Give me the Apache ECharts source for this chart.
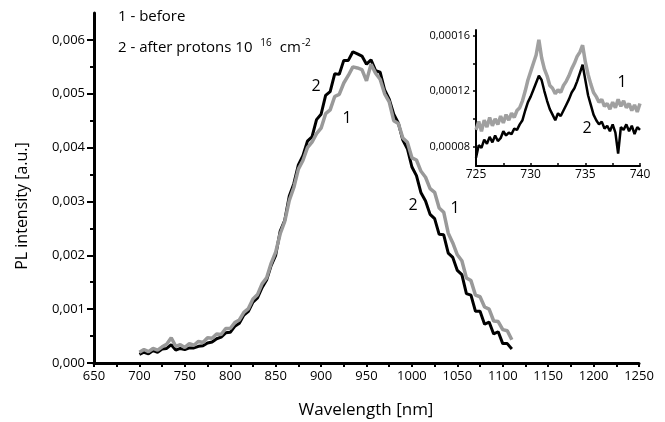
<!DOCTYPE html>
<html><head><meta charset="utf-8">
<script src="https://cdn.jsdelivr.net/npm/echarts@6/dist/echarts.min.js"></script>
<style>html,body{margin:0;padding:0;background:#fff}#c{width:665px;height:422px}</style>
</head><body><div id="c"></div>
<script>
// Main spectrum (nm)
const wavelengths = [700,705,710,715,720,725,730,735,740,745,750,755,760,765,770,775,780,785,790,795,800,805,810,815,820,825,830,835,840,845,850,855,860,865,870,875,880,885,890,895,900,905,910,915,920,925,930,935,940,945,950,955,960,965,970,975,980,985,990,995,1000,1005,1010,1015,1020,1025,1030,1035,1040,1045,1050,1055,1060,1065,1070,1075,1080,1085,1090,1095,1100,1105,1110];
const before = [0.00020,0.00025,0.00021,0.00027,0.00024,0.00030,0.00035,0.00047,0.00031,0.00034,0.00029,0.00036,0.00033,0.00040,0.00038,0.00047,0.00046,0.00054,0.00053,0.00064,0.00064,0.00075,0.00080,0.00094,0.00101,0.00119,0.00127,0.00147,0.00158,0.00185,0.00206,0.00240,0.00263,0.00302,0.00326,0.00360,0.00376,0.00400,0.00410,0.00426,0.00436,0.00463,0.00470,0.00495,0.00499,0.00520,0.00534,0.00550,0.00548,0.00545,0.00524,0.00555,0.00538,0.00527,0.00500,0.00485,0.00450,0.00445,0.00418,0.00410,0.00381,0.00377,0.00356,0.00345,0.00324,0.00317,0.00288,0.00280,0.00241,0.00223,0.00201,0.00190,0.00158,0.00153,0.00126,0.00123,0.00104,0.00100,0.00078,0.00077,0.00062,0.00060,0.00043];
const after = [0.00016,0.00020,0.00017,0.00023,0.00020,0.00026,0.00027,0.00034,0.00024,0.00027,0.00025,0.00028,0.00028,0.00031,0.00032,0.00037,0.00039,0.00045,0.00048,0.00056,0.00057,0.00068,0.00074,0.00089,0.00096,0.00113,0.00121,0.00140,0.00154,0.00181,0.00200,0.00245,0.00265,0.00310,0.00333,0.00368,0.00385,0.00412,0.00420,0.00452,0.00462,0.00497,0.00504,0.00537,0.00536,0.00562,0.00562,0.00578,0.00574,0.00570,0.00555,0.00563,0.00543,0.00540,0.00507,0.00490,0.00462,0.00446,0.00414,0.00398,0.00364,0.00348,0.00316,0.00301,0.00276,0.00268,0.00239,0.00238,0.00204,0.00196,0.00172,0.00164,0.00129,0.00126,0.00096,0.00096,0.00072,0.00076,0.00054,0.00058,0.00036,0.00036,0.00026];

// Inset (nm)
const insetWavelengths = [725,725.25,725.5,725.75,726,726.25,726.5,726.75,727,727.25,727.5,727.75,728,728.25,728.5,728.75,729,729.25,729.5,729.75,730,730.25,730.5,730.75,731,731.25,731.5,731.75,732,732.25,732.5,732.75,733,733.25,733.5,733.75,734,734.25,734.5,734.75,735,735.25,735.5,735.75,736,736.25,736.5,736.75,737,737.25,737.5,737.75,738,738.25,738.5,738.75,739,739.25,739.5,739.75,740];
const insetBefore = [0.000092,0.000098,0.000091,0.000099,0.000094,0.000101,0.000095,0.000100,0.000096,0.000102,0.000097,0.000103,0.000099,0.000104,0.000101,0.000106,0.000108,0.000113,0.000120,0.000128,0.000134,0.000140,0.000146,0.000157,0.000144,0.000136,0.000131,0.000124,0.000122,0.000118,0.000121,0.000119,0.000124,0.000127,0.000131,0.000136,0.000140,0.000145,0.000148,0.000153,0.000141,0.000132,0.000125,0.000119,0.000116,0.000112,0.000114,0.000109,0.000111,0.000107,0.000112,0.000108,0.000114,0.000109,0.000113,0.000108,0.000111,0.000106,0.000110,0.000105,0.000111];
const insetAfter = [0.000072,0.000081,0.000079,0.000085,0.000082,0.000087,0.000083,0.000088,0.000084,0.000086,0.000091,0.000088,0.000090,0.000089,0.000093,0.000092,0.000096,0.000099,0.000106,0.000112,0.000116,0.000121,0.000126,0.000131,0.000128,0.000120,0.000113,0.000107,0.000103,0.000099,0.000104,0.000102,0.000106,0.000110,0.000114,0.000119,0.000122,0.000127,0.000133,0.000139,0.000128,0.000117,0.000110,0.000103,0.000099,0.000096,0.000098,0.000093,0.000095,0.000091,0.000096,0.000090,0.000075,0.000094,0.000092,0.000096,0.000091,0.000095,0.000089,0.000094,0.000092];

// Tick values
const mainYLabels = [0,0.001,0.002,0.003,0.004,0.005,0.006];
const mainYMinor = [0.0005,0.0015,0.0025,0.0035,0.0045,0.0055];
const insetYLabels = [0.00008,0.00012,0.00016];
const insetYMinor = [0.00010,0.00014];

const FONT = '"Open Sans", sans-serif';
const zip = (a,b)=>a.map((v,i)=>[v,b[i]]);
const fmt = d => v => v.toFixed(d).replace('.', ',');
const plain = v => String(v);

const chart = echarts.init(document.getElementById('c'));
chart.setOption({
  animation:false,
  backgroundColor:'#fff',
  grid:[
    {left:94, right:26, top:13, bottom:59},
    {left:476, right:25, top:30, bottom:256}
  ],
  xAxis:[
    {gridIndex:0, type:'value', min:650, max:1250, interval:50,
     axisLine:{show:true, onZero:false, lineStyle:{color:'#000', width:3}}, splitLine:{show:false},
     axisTick:{show:true, length:4, lineStyle:{color:'#000',width:2}},
     minorTick:{show:true, splitNumber:2, length:4, lineStyle:{color:'#000',width:2}},
     axisLabel:{color:'#000', fontFamily:FONT, fontSize:13, margin:7, formatter:plain}},
    {gridIndex:1, type:'value', min:725, max:740, interval:5,
     axisLine:{show:true, onZero:false, lineStyle:{color:'#000', width:2}}, splitLine:{show:false},
     axisTick:{show:true, inside:true, length:3, lineStyle:{color:'#000',width:1.5}},
     minorTick:{show:true, splitNumber:2, length:3, lineStyle:{color:'#000',width:1.5}},
     axisLabel:{color:'#000', fontFamily:FONT, fontSize:12, margin:3, formatter:plain}}
  ],
  yAxis:[
    {gridIndex:0, type:'value', position:'left', min:0, max:0.0065,
     axisLine:{show:true, onZero:false, lineStyle:{color:'#000', width:3}}, splitLine:{show:false},
     axisTick:{show:true, customValues:mainYLabels, length:7, lineStyle:{color:'#000',width:2}},
     axisLabel:{customValues:mainYLabels, formatter:fmt(3), color:'#000', fontFamily:FONT, fontSize:13, margin:9}},
    {gridIndex:0, type:'value', position:'left', offset:0, min:0, max:0.0065,
     axisLine:{show:false}, splitLine:{show:false},
     axisTick:{show:true, customValues:mainYMinor, length:4, lineStyle:{color:'#000',width:2}},
     axisLabel:{show:false, customValues:mainYMinor}},
    {gridIndex:1, type:'value', position:'left', min:0.000066, max:0.000164,
     axisLine:{show:true, onZero:false, lineStyle:{color:'#000', width:2}}, splitLine:{show:false},
     axisTick:{show:true, customValues:insetYLabels.concat(insetYMinor), length:3, lineStyle:{color:'#000',width:1.5}},
     axisLabel:{customValues:insetYLabels, formatter:fmt(5), color:'#000', fontFamily:FONT, fontSize:11, margin:6}}
  ],
  series:[
    {type:'line', xAxisIndex:0, yAxisIndex:0, data:zip(wavelengths, after), showSymbol:false, symbol:'none',
     lineStyle:{color:'#000', width:3}, z:2},
    {type:'line', xAxisIndex:0, yAxisIndex:0, data:zip(wavelengths, before), showSymbol:false, symbol:'none',
     lineStyle:{color:'#999', width:3.5}, z:3},
    {type:'line', xAxisIndex:1, yAxisIndex:2, data:zip(insetWavelengths, insetBefore), showSymbol:false, symbol:'none',
     lineStyle:{color:'#a0a0a0', width:3.5}, z:3},
    {type:'line', xAxisIndex:1, yAxisIndex:2, data:zip(insetWavelengths, insetAfter), showSymbol:false, symbol:'none',
     lineStyle:{color:'#000', width:2.5}, z:4}
  ],
  graphic:[
    {type:'text', left:118, top:9, style:{text:'1 - before', font:'15px '+FONT, fill:'#000'}},
    {type:'text', left:118, top:38, style:{
      text:'2 - after protons 10 {sup|16} cm{sup2|-2}', font:'15px '+FONT, fill:'#000',
      rich:{sup:{fontSize:10, fontFamily:FONT, verticalAlign:'top', padding:[0,4,10,4], fill:'#000'},
            sup2:{fontSize:10, fontFamily:FONT, verticalAlign:'top', padding:[0,0,10,1], fill:'#000'}}
    }},
    {type:'text', x:316, y:86, style:{text:'2', font:'16px '+FONT, fill:'#000', align:'center', verticalAlign:'middle'}},
    {type:'text', x:347, y:118, style:{text:'1', font:'16px '+FONT, fill:'#000', align:'center', verticalAlign:'middle'}},
    {type:'text', x:413, y:205, style:{text:'2', font:'16px '+FONT, fill:'#000', align:'center', verticalAlign:'middle'}},
    {type:'text', x:455, y:208, style:{text:'1', font:'16px '+FONT, fill:'#000', align:'center', verticalAlign:'middle'}},
    {type:'text', x:622, y:82, style:{text:'1', font:'16px '+FONT, fill:'#000', align:'center', verticalAlign:'middle'}},
    {type:'text', x:587, y:128, style:{text:'2', font:'16px '+FONT, fill:'#000', align:'center', verticalAlign:'middle'}},
    {type:'text', x:366, y:410, style:{text:'Wavelength [nm]', font:'17px '+FONT, fill:'#000', align:'center', verticalAlign:'middle'}},
    {type:'text', x:22, y:206, rotation:Math.PI/2, style:{text:'PL intensity [a.u.]', font:'16px '+FONT, fill:'#000', align:'center', verticalAlign:'middle'}}
  ]
});
</script></body></html>
